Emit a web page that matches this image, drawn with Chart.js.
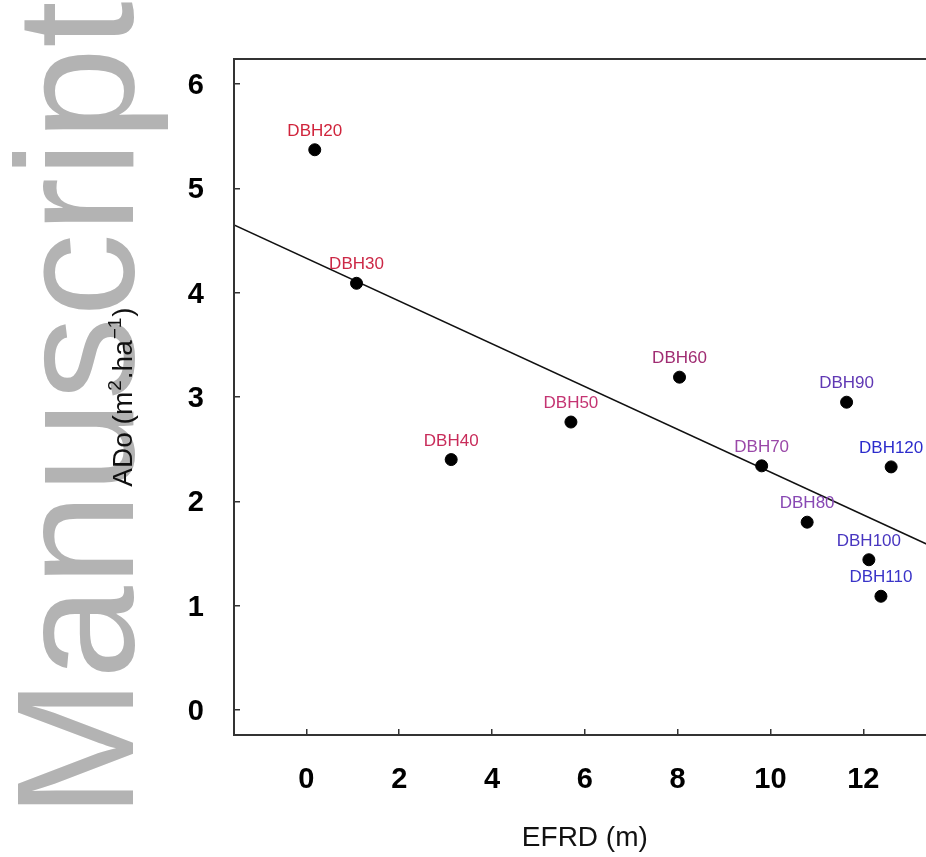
<!DOCTYPE html>
<html>
<head>
    <title>ADo vs EFRD</title>
    <script src="https://cdn.jsdelivr.net/npm/chart.js"></script>
    <style>
        html, body {
            margin: 0;
            padding: 0;
            background: #fff;
            overflow: hidden;
        }
        canvas {
            display: block;
        }
    </style>
</head>
<body>
    <canvas id="efrdChart" width="950" height="857"></canvas>

    <script>
        // diameter classes and their values
        const classes = ['DBH20', 'DBH30', 'DBH40', 'DBH50', 'DBH60', 'DBH70', 'DBH80', 'DBH90', 'DBH100', 'DBH110', 'DBH120'];
        const efrd = [0.18, 1.08, 3.12, 5.70, 8.04, 9.81, 10.79, 11.64, 12.12, 12.38, 12.60];
        const ado = [5.37, 4.09, 2.40, 2.76, 3.19, 2.34, 1.80, 2.95, 1.44, 1.09, 2.33];
        const labelColors = ['#d0243c', '#cc2846', '#c82c5a', '#c43472', '#a02c72', '#9a48a8', '#8848b4', '#6038b4', '#4836c0', '#3a34c8', '#2c2ccc'];

        // fitted line (ends at the plot limits)
        const fitX = [-1.56, 13.56];
        const fitY = [4.65, 1.55];

        const xTicks = [0, 2, 4, 6, 8, 10, 12];
        const yTicks = [0, 1, 2, 3, 4, 5, 6];

        const decor = {
            id: 'decor',
            beforeDraw(chart) {
                // "Manuscript" watermark on the left
                const ctx = chart.ctx;
                ctx.save();
                ctx.translate(133, 818);
                ctx.rotate(-Math.PI / 2);
                ctx.font = '167px "Liberation Sans", Arial, sans-serif';
                ctx.fillStyle = '#b3b3b3';
                ctx.textBaseline = 'alphabetic';
                ctx.fillText('Manuscript', 0, 0);
                ctx.restore();
            },
            afterDatasetsDraw(chart) {
                const ctx = chart.ctx;
                const xs = chart.scales.x, ys = chart.scales.y;
                ctx.save();
                ctx.font = '17px "Liberation Sans", Arial, sans-serif';
                ctx.textAlign = 'center';
                ctx.textBaseline = 'alphabetic';
                classes.forEach((c, i) => {
                    ctx.fillStyle = labelColors[i];
                    ctx.fillText(c, xs.getPixelForValue(efrd[i]), ys.getPixelForValue(ado[i]) - 14);
                });
                ctx.restore();
            },
            afterDraw(chart) {
                const ctx = chart.ctx;
                const a = chart.chartArea;
                ctx.save();
                ctx.strokeStyle = '#333';
                ctx.lineWidth = 2;
                ctx.strokeRect(a.left, a.top, a.right - a.left, a.bottom - a.top);

                // y title with superscripts
                const parts = [['ADo (m', 0], ['2', 1], ['.ha', 0], ['\u22121', 1], [')', 0]];
                const big = '28px "Liberation Sans", Arial, sans-serif';
                const small = '19px "Liberation Sans", Arial, sans-serif';
                let total = 0;
                parts.forEach(p => {
                    ctx.font = p[1] ? small : big;
                    total += ctx.measureText(p[0]).width + (p[1] ? 2 : 0);
                });
                ctx.translate(132, (a.top + a.bottom) / 2);
                ctx.rotate(-Math.PI / 2);
                ctx.fillStyle = '#111';
                ctx.textBaseline = 'alphabetic';
                let x = -total / 2;
                parts.forEach(p => {
                    ctx.font = p[1] ? small : big;
                    if (p[1]) x += 1;
                    ctx.fillText(p[0], x, p[1] ? -11 : 0);
                    x += ctx.measureText(p[0]).width + (p[1] ? 1 : 0);
                });
                ctx.restore();
            }
        };

        new Chart(document.getElementById('efrdChart'), {
            type: 'scatter',
            data: {
                datasets: [
                    {
                        label: 'ADo',
                        data: efrd.map((v, i) => ({ x: v, y: ado[i] })),
                        backgroundColor: '#000',
                        borderColor: '#000',
                        borderWidth: 1,
                        pointRadius: 6
                    },
                    {
                        label: 'fit',
                        data: fitX.map((v, i) => ({ x: v, y: fitY[i] })),
                        showLine: true,
                        borderColor: '#111',
                        borderWidth: 1.5,
                        pointRadius: 0
                    }
                ]
            },
            plugins: [decor],
            options: {
                responsive: false,
                animation: false,
                layout: { padding: { top: 59, right: 14.3, left: 0, bottom: 0 } },
                plugins: {
                    legend: { display: false },
                    tooltip: { enabled: false }
                },
                scales: {
                    x: {
                        type: 'linear',
                        min: -1.56,
                        max: 13.56,
                        afterFit: s => { s.height = 122; },
                        afterBuildTicks: s => { s.ticks = xTicks.map(v => ({ value: v })); },
                        border: { display: false },
                        grid: { drawOnChartArea: false, drawTicks: true, tickLength: -6, color: '#333', lineWidth: 1.5 },
                        ticks: {
                            padding: 34,
                            color: '#000',
                            font: { family: '"Liberation Sans", Arial, sans-serif', size: 29, weight: 'bold' }
                        },
                        title: {
                            display: true,
                            text: 'EFRD (m)',
                            color: '#111',
                            padding: { top: 0, bottom: 2 },
                            font: { family: '"Liberation Sans", Arial, sans-serif', size: 28 }
                        }
                    },
                    y: {
                        min: -0.24,
                        max: 6.24,
                        afterFit: s => { s.width = 234; },
                        afterBuildTicks: s => { s.ticks = yTicks.map(v => ({ value: v })); },
                        border: { display: false },
                        grid: { drawOnChartArea: false, drawTicks: true, tickLength: -6, color: '#333', lineWidth: 1.5 },
                        ticks: {
                            padding: 36,
                            labelOffset: 2,
                            color: '#000',
                            font: { family: '"Liberation Sans", Arial, sans-serif', size: 29, weight: 'bold' }
                        }
                    }
                }
            }
        });
    </script>
</body>
</html>
